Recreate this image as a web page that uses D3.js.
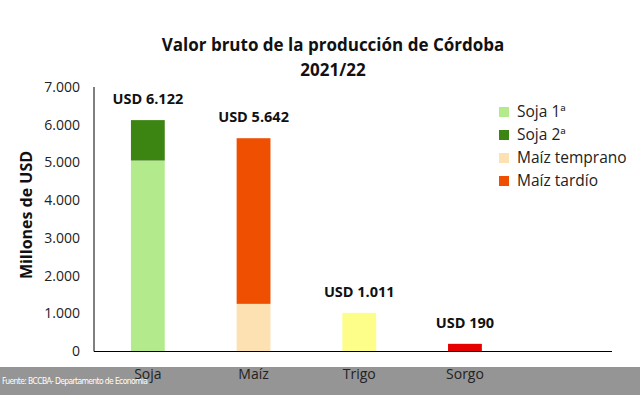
<!DOCTYPE html>
<html>
<head>
<meta charset="utf-8">
<script src="https://cdn.jsdelivr.net/npm/d3@7"></script>
<style>
  body { margin: 0; background: #fff; }
  text { font-family: "Open Sans", Lato, sans-serif; }
</style>
</head>
<body>
<svg width="640" height="395"></svg>
<script>
'use strict';

// data
var categories = ['Soja', 'Maíz', 'Trigo', 'Sorgo', ''];
var seriesNames = ['Soja 1ª', 'Soja 2ª', 'Maíz temprano', 'Maíz tardío', 'Trigo', 'Sorgo'];
var seriesCategory = ['Soja', 'Soja', 'Maíz', 'Maíz', 'Trigo', 'Sorgo'];
var seriesValues = [5050, 1072, 1250, 4392, 1011, 190];
var seriesColors = ['#b2ea8c', '#3d8513', '#fde1b2', '#ee4f00', '#fdfd8a', '#e60000'];
var totals = [6122, 5642, 1011, 190];
var totalLabels = ['USD 6.122', 'USD 5.642', 'USD 1.011', 'USD 190'];
var yTicks = [0, 1000, 2000, 3000, 4000, 5000, 6000, 7000];
var legendItems = [0, 1, 2, 3];

var svg = d3.select('svg');

var x = d3.scaleBand().domain(categories).range([95, 623.5]).paddingInner(0.68).paddingOuter(0.34);
var y = d3.scaleLinear().domain([0, 7000]).range([351, 87]);

var fmt = function (d) { return d === 0 ? '0' : d3.format(',')(d).replace(/,/g, '.'); };

// footer band
svg.append('rect').attr('x', 0).attr('y', 367).attr('width', 640).attr('height', 28).attr('fill', '#959595');
svg.append('text').attr('x', 2).attr('y', 384)
    .attr('fill', '#fff').style('font-family', '"Liberation Sans Narrow", "DejaVu Sans Condensed", sans-serif')
    .style('font-size', '8.5px').attr('textLength', 146)
    .text('Fuente: BCCBA- Departamento de Economía');

// title
svg.append('text').attr('x', 333).attr('y', 51).attr('text-anchor', 'middle')
    .style('font-size', '17px').style('font-weight', 'bold').attr('fill', '#111')
    .text('Valor bruto de la producción de Córdoba');
svg.append('text').attr('x', 333).attr('y', 76).attr('text-anchor', 'middle')
    .style('font-size', '17px').style('font-weight', 'bold').attr('fill', '#111')
    .text('2021/22');

// stacked bars
var stackBase = {};
var bars = seriesValues.map(function (v, i) {
    var c = seriesCategory[i];
    var b = stackBase[c] || 0;
    stackBase[c] = b + v;
    return { c: c, y0: b, y1: b + v, color: seriesColors[i] };
});

svg.selectAll('rect.bar').data(bars).enter().append('rect')
    .attr('class', 'bar')
    .attr('x', function (d) { return x(d.c); })
    .attr('width', x.bandwidth())
    .attr('y', function (d) { return y(d.y1); })
    .attr('height', function (d) { return y(d.y0) - y(d.y1); })
    .attr('fill', function (d) { return d.color; });

// total labels
svg.selectAll('text.total').data(totals).enter().append('text')
    .attr('class', 'total')
    .attr('x', function (d, i) { return x(categories[i]) + x.bandwidth() / 2; })
    .attr('y', function (d) { return y(d) - 16; })
    .attr('text-anchor', 'middle')
    .style('font-size', '14.5px').style('font-weight', 'bold').attr('fill', '#111')
    .text(function (d, i) { return totalLabels[i]; });

// y axis
var yAxis = svg.append('g').attr('transform', 'translate(94,0)')
    .call(d3.axisLeft(y).tickValues(yTicks).tickSize(0).tickPadding(14).tickFormat(fmt));
yAxis.select('.domain').attr('stroke', '#000').attr('d', 'M0,87V351.5');
yAxis.selectAll('text').style('font-size', '14px').attr('fill', '#222')
    .style('font-family', '"Open Sans", sans-serif');

// x axis
var xAxis = svg.append('g').attr('transform', 'translate(0,351.5)')
    .call(d3.axisBottom(x).tickSize(0).tickPadding(18));
xAxis.select('.domain').attr('stroke', '#000').attr('d', 'M94,0H612');
xAxis.selectAll('text').style('font-size', '14px').attr('fill', '#222')
    .style('font-family', '"Open Sans", sans-serif');

// y axis title
svg.append('text').attr('transform', 'translate(32,215) rotate(-90)')
    .attr('text-anchor', 'middle').style('font-size', '16px').style('font-weight', 'bold').attr('fill', '#111')
    .text('Millones de USD');

// legend
var legend = svg.selectAll('g.legend').data(legendItems).enter().append('g')
    .attr('class', 'legend')
    .attr('transform', function (d, i) { return 'translate(499,' + (107 + i * 23) + ')'; });
legend.append('rect').attr('width', 10).attr('height', 10)
    .attr('fill', function (d) { return seriesColors[d]; });
legend.append('text').attr('x', 18).attr('y', 10)
    .style('font-size', '15.5px').attr('fill', '#222')
    .text(function (d) { return seriesNames[d]; });
</script>
</body>
</html>
